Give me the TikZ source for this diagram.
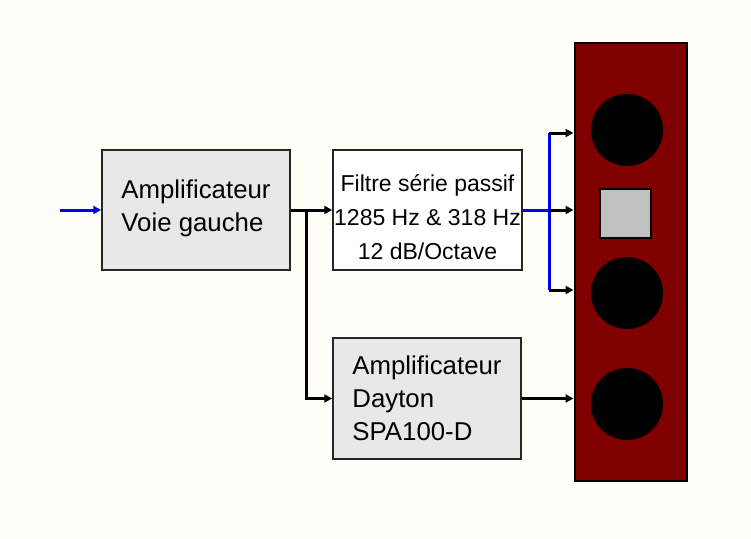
\documentclass[tikz,border=0pt]{standalone}
\usepackage{fontspec}
\setmainfont{Liberation Sans}
\usetikzlibrary{arrows.meta,positioning}
\definecolor{fond}{RGB}{255,255,248}
\definecolor{grisbox}{RGB}{232,232,232}
\definecolor{bordeaux}{RGB}{128,0,0}
\definecolor{tweet}{RGB}{192,192,192}
\definecolor{bleu}{RGB}{0,0,240}

\begin{document}
\begin{tikzpicture}[
  x=1pt, y=-1pt,
  >={Triangle[length=8pt, width=8pt]},
  bx/.style={draw=black!85, line width=1.5pt, inner sep=0pt},
  hp/.style={circle, fill=black, inner sep=0pt, minimum size=72pt},
  fl/.style={->, draw=black, line width=3pt},
  bl/.style={draw=bleu, line width=3pt}]

\fill[fond] (0,0) rectangle (751,538);
\useasboundingbox (0,0) rectangle (751,538);

% ===== blocs =====
\node[bx, fill=grisbox, minimum width=188pt, minimum height=120pt, align=left,
  font=\fontsize{25.8}{33}\selectfont] (ampg) at (196,210)
  {Amplificateur\\Voie gauche\\[-24pt]};
\node[bx, fill=white, minimum width=189pt, minimum height=120pt, align=center,
  font=\fontsize{23}{34}\selectfont] (filtre) at (427.5,210)
  {\rule{0pt}{31pt}Filtre série passif\\1285 Hz \& 318 Hz\\12 dB/Octave\hspace{10pt}};
\node[bx, fill=grisbox, minimum width=188pt, minimum height=121pt, align=left,
  font=\fontsize{25.8}{33}\selectfont] (dayton) at (427,398.5)
  {Amplificateur\\Dayton\\SPA100-D};

% ===== enceinte =====
\node[draw=black, line width=2pt, fill=bordeaux, minimum width=112pt,
  minimum height=438pt, inner sep=0pt] (enc) at (630.5,262) {};
\node[hp] (hp1) at (627,130) {};
\node[draw=black, line width=1.5pt, fill=tweet, minimum width=51pt,
  minimum height=49pt, inner sep=0pt] (tw) at (625.5,213.5) {};
\node[hp] (hp2) at (627,293) {};
\node[hp] (hp3) at (627,404) {};

% ===== points =====
\coordinate (in) at (60,210);
\coordinate (j1) at (306,210);
\coordinate (bh) at (549,133);
\coordinate (bm) at (549,210);
\coordinate (bb) at (549,290);

% ===== liaisons =====
\draw[bl, ->] (in) -- (ampg.west |- in);
\draw[fl] (ampg.east |- j1) -- (filtre.west |- j1);
\draw[fl] (j1) |- (dayton.west);
\draw[bl] (filtre.east |- bm) -- (bm);
\draw[bl] (bh) -- (bb);
\draw[fl] (bh) -- (bh -| enc.west);
\draw[fl] (bm) -- (bm -| enc.west);
\draw[fl] (bb) -- (bb -| enc.west);
\draw[fl] (dayton.east) -- (dayton.east -| enc.west);

\end{tikzpicture}
\end{document}
